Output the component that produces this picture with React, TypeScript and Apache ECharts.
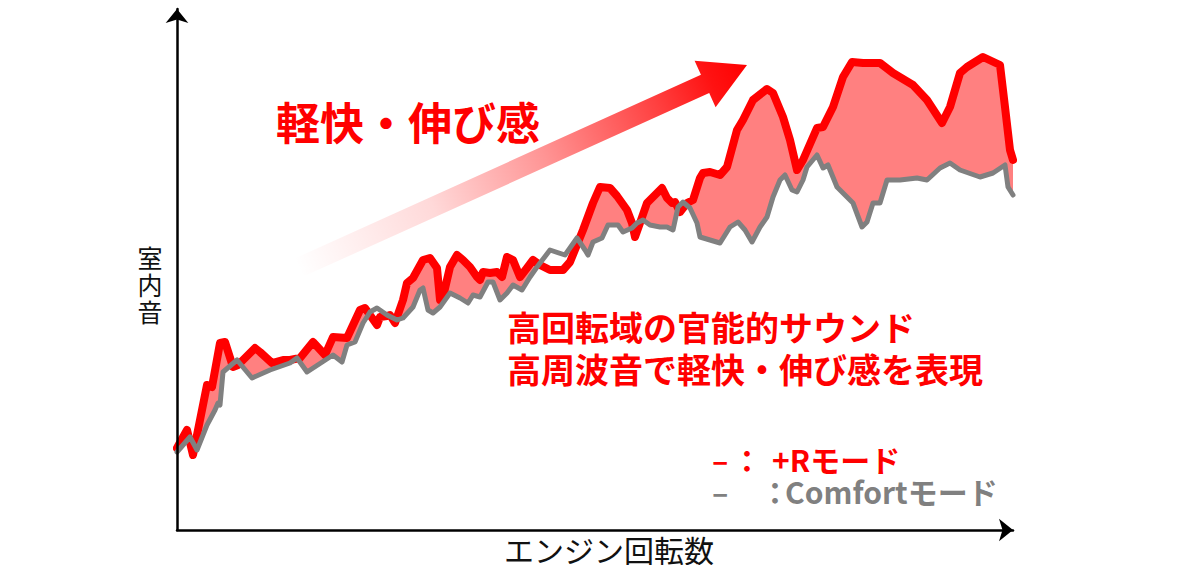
import React, { useEffect, useRef } from "react";
import * as echarts from "echarts";

// engine speed (arbitrary units) vs interior noise (arbitrary units)
const plusRMode: [number, number][] = [
  [0, 82], [10, 100], [16, 75], [30, 145], [35, 143], [43, 187], [48, 188], [56, 163], [61, 165], [78, 182],
  [83, 178], [95, 167], [106, 170], [113, 170], [123, 172], [136, 188], [148, 175], [156, 193], [170, 192], [183, 220],
  [188, 222], [200, 205], [203, 213], [210, 214], [213, 215], [218, 207], [226, 230], [230, 247], [236, 252], [246, 270],
  [253, 272], [260, 262], [263, 230], [266, 233], [273, 263], [280, 275], [286, 270], [293, 263], [300, 253], [303, 250],
  [306, 258], [313, 257], [320, 258], [325, 253], [330, 273], [336, 270], [343, 253], [350, 262], [356, 270], [363, 265],
  [373, 260], [386, 260], [393, 268], [406, 300], [416, 327], [423, 343], [433, 342], [440, 334], [450, 320], [455, 307],
  [458, 293], [463, 307], [470, 327], [480, 337], [485, 342], [490, 332], [495, 327], [498, 328], [503, 318], [510, 327],
  [516, 330], [523, 352], [526, 357], [533, 358], [543, 355], [550, 363], [560, 400], [566, 410], [576, 430], [590, 441],
  [596, 437], [606, 413], [613, 390], [620, 360], [626, 370], [640, 402], [646, 403], [656, 423], [666, 453], [675, 468],
  [686, 467], [703, 467], [716, 457], [736, 445], [750, 430], [765, 407], [773, 423], [783, 457], [790, 463], [806, 473],
  [823, 465], [828, 423], [833, 380], [836, 370],
];

const comfortMode: [number, number][] = [
  [0, 78], [13, 93], [20, 80], [30, 105], [38, 120], [41, 127], [43, 125], [46, 158], [60, 170], [75, 152],
  [93, 160], [113, 167], [120, 172], [130, 158], [156, 175], [165, 168], [170, 185], [178, 188], [186, 207], [193, 218],
  [200, 222], [210, 215], [220, 210], [226, 212], [236, 223], [243, 240], [246, 242], [251, 220], [256, 217], [263, 223],
  [273, 237], [283, 232], [291, 227], [296, 235], [303, 233], [311, 248], [316, 248], [323, 230], [330, 237], [336, 245],
  [345, 240], [353, 253], [360, 263], [373, 280], [388, 275], [400, 292], [408, 280], [411, 275], [416, 288], [425, 292],
  [431, 305], [441, 305], [446, 298], [455, 302], [460, 307], [466, 310], [473, 305], [483, 303], [490, 303], [496, 300],
  [501, 323], [506, 328], [513, 322], [520, 307], [523, 293], [533, 290], [543, 287], [553, 303], [561, 308], [568, 300],
  [575, 288], [583, 303], [590, 313], [596, 333], [603, 350], [608, 355], [615, 340], [620, 338], [626, 350], [630, 363],
  [640, 375], [646, 362], [651, 365], [660, 343], [670, 333], [676, 327], [685, 303], [690, 308], [696, 327], [703, 327],
  [710, 350], [723, 350], [740, 352], [750, 350], [763, 362], [773, 367], [783, 360], [803, 353], [816, 357], [828, 365],
  [831, 343], [836, 335],
];

const xRange = [0, 836];
const yRange = [0, 521];

const yTitleChars = ["室", "内", "音"];
const xTitle = "エンジン回転数";
const headline = "軽快・伸び感";
const noteLine1 = "高回転域の官能的サウンド";
const noteLine2 = "高周波音で軽快・伸び感を表現";
const legendR = "+Rモード";
const legendC = "Comfortモード";

const JP = '"Noto Sans CJK JP", "Noto Sans", sans-serif';

export default function App() {
  const ref = useRef<HTMLDivElement>(null);
  useEffect(() => {
    if (!ref.current) return;
    const chart = echarts.init(ref.current, null, { renderer: "svg" });

    // gradient arrow geometry (decoration)
    const tail = [298, 268];
    const tip = [747, 65];
    const dx = tip[0] - tail[0];
    const dy = tip[1] - tail[1];
    const len = Math.sqrt(dx * dx + dy * dy);
    const u = [dx / len, dy / len];
    const n = [-u[1], u[0]];
    const headLen = 46;
    const shaftHalf = 10;
    const headHalf = 25.5;
    const base = [tip[0] - u[0] * headLen, tip[1] - u[1] * headLen];
    const p = (c: number[], k: number) => [c[0] + n[0] * k, c[1] + n[1] * k];
    const arrowPts = [
      p(tail, -shaftHalf),
      p(base, -shaftHalf),
      p(base, -headHalf),
      tip,
      p(base, headHalf),
      p(base, shaftHalf),
      p(tail, shaftHalf),
    ];

    const axisCommon = {
      type: "value" as const,
      axisLine: {
        show: true,
        onZero: false,
        symbol: ["none", "arrow"],
        symbolSize: [17, 14],
        lineStyle: { color: "#000", width: 2.5 },
      },
      axisTick: { show: false },
      axisLabel: { show: false },
      splitLine: { show: false },
      z: 5,
    };

    const legFont = { fontFamily: JP, fontWeight: 700, fontSize: 30, lineHeight: 32 };

    chart.setOption({
      animation: false,
      grid: { left: 177, right: 187, top: 9, bottom: 35 },
      xAxis: { ...axisCommon, min: xRange[0], max: xRange[1] },
      yAxis: { ...axisCommon, min: yRange[0], max: yRange[1] },
      series: [
        {
          type: "line",
          data: plusRMode,
          symbol: "none",
          lineStyle: { width: 0, opacity: 0 },
          areaStyle: { color: "#ff8080", opacity: 1 },
          z: 1,
          silent: true,
        },
        {
          type: "line",
          data: comfortMode,
          symbol: "none",
          lineStyle: { width: 0, opacity: 0 },
          areaStyle: { color: "#ffffff", opacity: 1 },
          z: 2,
          silent: true,
        },
        {
          name: "+Rモード",
          type: "line",
          data: plusRMode,
          symbol: "none",
          lineStyle: { color: "#ff0000", width: 8, join: "round", cap: "round" },
          z: 3,
        },
        {
          name: "Comfortモード",
          type: "line",
          data: comfortMode,
          symbol: "none",
          lineStyle: { color: "#808080", width: 5, join: "round", cap: "round" },
          z: 4,
        },
      ],
      graphic: [
        {
          type: "polygon",
          z: 10,
          shape: { points: arrowPts },
          style: {
            fill: {
              type: "linear",
              x: tail[0],
              y: tail[1],
              x2: tip[0],
              y2: tip[1],
              global: true,
              colorStops: [
                { offset: 0, color: "rgba(255,0,0,0)" },
                { offset: 0.3, color: "rgba(255,0,0,0.15)" },
                { offset: 0.55, color: "rgba(255,0,0,0.42)" },
                { offset: 0.8, color: "rgba(255,0,0,0.75)" },
                { offset: 0.92, color: "rgba(255,0,0,0.93)" },
                { offset: 1, color: "rgba(255,0,0,1)" },
              ],
            },
          },
        },
        ...yTitleChars.map((ch, i) => ({
          type: "text",
          z: 10,
          x: 150,
          y: 257 + i * 27,
          style: {
            text: ch,
            fill: "#111",
            font: `400 25px ${JP}`,
            lineHeight: 25,
            align: "center",
            verticalAlign: "middle",
          },
        })),
        {
          type: "text",
          z: 10,
          x: 609,
          y: 549,
          style: {
            text: xTitle,
            fill: "#111",
            font: `400 30px ${JP}`,
            lineHeight: 30,
            align: "center",
            verticalAlign: "middle",
          },
        },
        {
          type: "text",
          z: 10,
          x: 408,
          y: 121,
          style: {
            text: headline,
            fill: "#ff0000",
            font: `700 44px ${JP}`,
            align: "center",
            verticalAlign: "middle",
          },
        },
        {
          type: "text",
          z: 10,
          x: 507,
          y: 326,
          style: {
            text: noteLine1,
            fill: "#ff0000",
            font: `700 34px ${JP}`,
            lineHeight: 36,
            align: "left",
            verticalAlign: "middle",
          },
        },
        {
          type: "text",
          z: 10,
          x: 507,
          y: 368,
          style: {
            text: noteLine2,
            fill: "#ff0000",
            font: `700 34px ${JP}`,
            lineHeight: 36,
            align: "left",
            verticalAlign: "middle",
          },
        },
        // legend (one rich text block)
        {
          type: "text",
          z: 10,
          x: 712,
          y: 475,
          style: {
            text:
              `{rd|–}{rc|：}{rt|${legendR}}\n` +
              `{gd|–}{gc|：}{gt|${legendC}}`,
            align: "left",
            verticalAlign: "middle",
            rich: {
              rd: { ...legFont, fill: "#ff0000", width: 20, align: "left" },
              rc: { ...legFont, fill: "#ff0000", width: 40, align: "left" },
              rt: { ...legFont, fill: "#ff0000", align: "left" },
              gd: { ...legFont, fill: "#808080", width: 48, align: "left" },
              gc: { ...legFont, fill: "#808080", width: 25, align: "left" },
              gt: { ...legFont, fill: "#808080", align: "left" },
            },
          },
        },
      ],
    });
    return () => chart.dispose();
  }, []);

  return (
    <div
      ref={ref}
      style={{ position: "fixed", left: 0, top: 0, width: 1200, height: 565, background: "#fff" }}
    />
  );
}
